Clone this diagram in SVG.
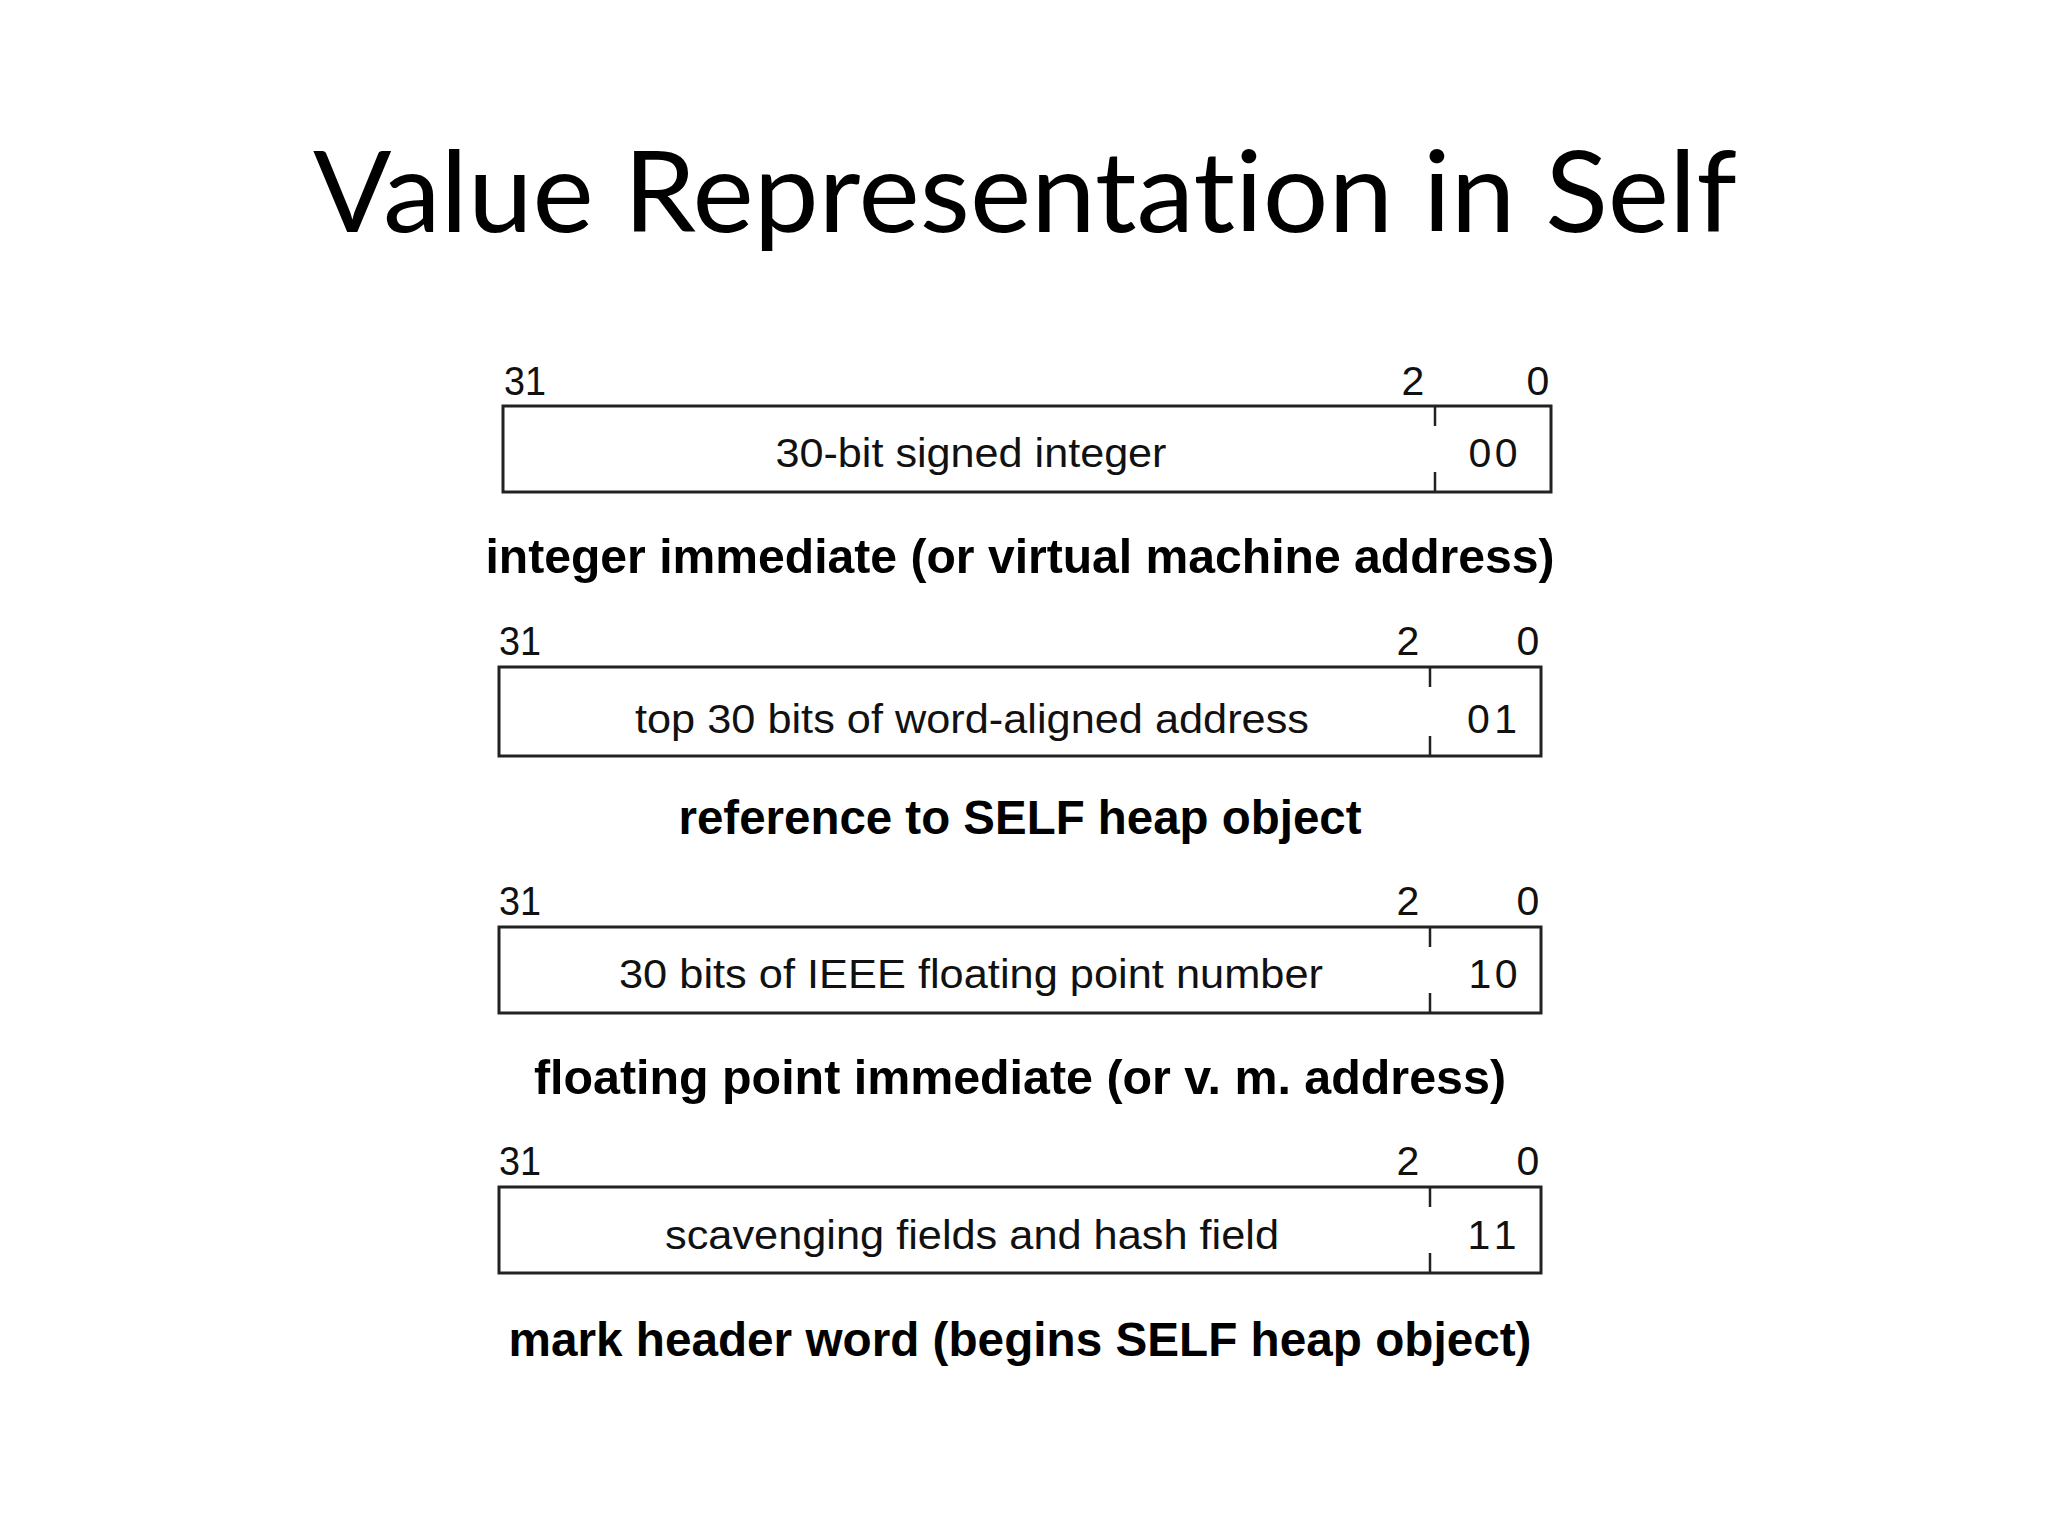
<svg xmlns="http://www.w3.org/2000/svg" width="2048" height="1536" viewBox="0 0 2048 1536">
<style>
text{font-variant-ligatures:none;font-feature-settings:"liga" 0,"dlig" 0}
.title{font-family:"Lato","Open Sans","Liberation Sans",sans-serif;font-size:112px;fill:#000}
.lbl{font-family:"Liberation Sans",Arial,sans-serif;font-size:41px;fill:#111}
.inner{font-family:"Liberation Sans",Arial,sans-serif;font-size:41px;fill:#111;text-anchor:middle}
.cap{font-family:"Liberation Sans",Arial,sans-serif;font-size:48px;font-weight:bold;fill:#000;text-anchor:middle}
.box{fill:#fff;stroke:#222;stroke-width:3}
.tick{stroke:#222;stroke-width:2.5}
.mid{text-anchor:middle}
</style>
<rect width="2048" height="1536" fill="#fff"/>
<text class="title" x="1025" y="232" text-anchor="middle" textLength="1424" lengthAdjust="spacingAndGlyphs">Value Representation in Self</text>

<g id="row-integer">
<text class="lbl" x="504" y="395" textLength="42" lengthAdjust="spacingAndGlyphs">31</text>
<text class="lbl mid" x="1413" y="395">2</text>
<text class="lbl mid" x="1538" y="395">0</text>
<rect class="box" x="503" y="406" width="1048" height="86"/>
<line class="tick" x1="1435" y1="406" x2="1435" y2="426"/>
<line class="tick" x1="1435" y1="472" x2="1435" y2="492"/>
<text class="inner" x="971" y="467" textLength="391" lengthAdjust="spacingAndGlyphs">30-bit signed integer</text>
<text class="inner" x="1493" y="467" textLength="49" lengthAdjust="spacing">00</text>
<text class="cap" x="1020" y="573" textLength="1069" lengthAdjust="spacingAndGlyphs">integer immediate (or virtual machine address)</text>
</g>

<g id="row-reference">
<text class="lbl" x="499" y="655" textLength="42" lengthAdjust="spacingAndGlyphs">31</text>
<text class="lbl mid" x="1408" y="655">2</text>
<text class="lbl mid" x="1528" y="655">0</text>
<rect class="box" x="499" y="667" width="1042" height="89"/>
<line class="tick" x1="1430" y1="667" x2="1430" y2="687"/>
<line class="tick" x1="1430" y1="736" x2="1430" y2="756"/>
<text class="inner" x="972" y="733" textLength="674" lengthAdjust="spacingAndGlyphs">top 30 bits of word-aligned address</text>
<text class="inner" x="1492" y="733" textLength="50" lengthAdjust="spacing">01</text>
<text class="cap" x="1020" y="834" textLength="683" lengthAdjust="spacingAndGlyphs">reference to SELF heap object</text>
</g>

<g id="row-float">
<text class="lbl" x="499" y="915" textLength="42" lengthAdjust="spacingAndGlyphs">31</text>
<text class="lbl mid" x="1408" y="915">2</text>
<text class="lbl mid" x="1528" y="915">0</text>
<rect class="box" x="499" y="927" width="1042" height="86"/>
<line class="tick" x1="1430" y1="927" x2="1430" y2="947"/>
<line class="tick" x1="1430" y1="993" x2="1430" y2="1013"/>
<text class="inner" x="971" y="988" textLength="704" lengthAdjust="spacingAndGlyphs">30 bits of IEEE floating point number</text>
<text class="inner" x="1493" y="988" textLength="49" lengthAdjust="spacing">10</text>
<text class="cap" x="1020" y="1094" textLength="972" lengthAdjust="spacingAndGlyphs">floating point immediate (or v. m. address)</text>
</g>

<g id="row-mark">
<text class="lbl" x="499" y="1175" textLength="42" lengthAdjust="spacingAndGlyphs">31</text>
<text class="lbl mid" x="1408" y="1175">2</text>
<text class="lbl mid" x="1528" y="1175">0</text>
<rect class="box" x="499" y="1187" width="1042" height="86"/>
<line class="tick" x1="1430" y1="1187" x2="1430" y2="1207"/>
<line class="tick" x1="1430" y1="1253" x2="1430" y2="1273"/>
<text class="inner" x="972" y="1249" textLength="614" lengthAdjust="spacingAndGlyphs">scavenging fields and hash field</text>
<text class="inner" x="1492" y="1249" textLength="49" lengthAdjust="spacing">11</text>
<text class="cap" x="1020" y="1356" textLength="1023" lengthAdjust="spacingAndGlyphs">mark header word (begins SELF heap object)</text>
</g>
</svg>
